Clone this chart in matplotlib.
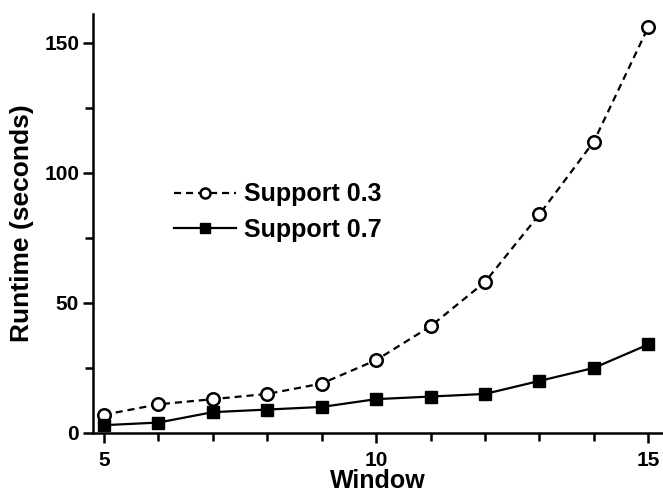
import matplotlib
matplotlib.use('Agg')
from matplotlib import pyplot as plt
from matplotlib.ticker import MultipleLocator

plt.rcParams['font.family'] = ['Liberation Sans', 'DejaVu Sans']
plt.rcParams['font.weight'] = 'bold'

# data
window = [5, 6, 7, 8, 9, 10, 11, 12, 13, 14, 15]
support_03 = [7, 11, 13, 15, 19, 28, 41, 58, 84, 112, 156]
support_07 = [3, 4, 8, 9, 10, 13, 14, 15, 20, 25, 34]

fig = plt.figure(figsize=(6.63, 4.95), dpi=100)
ax = fig.add_axes([0.1403, 0.1253, 0.8597, 0.8464])

ax.plot(window, support_03, color='black', lw=1.6, dashes=(3.2, 2.2),
        marker='o', ms=9, mfc='white', mec='black', mew=1.8,
        label='Support 0.3', clip_on=False, zorder=3)
ax.plot(window, support_07, color='black', lw=1.6, ls='-',
        marker='s', ms=9, mfc='black', mec='black',
        label='Support 0.7', clip_on=False, zorder=3)

ax.set_xlim(4.8, 15.27)
ax.set_ylim(0, 161)
ax.xaxis.set_major_locator(MultipleLocator(5))
ax.xaxis.set_minor_locator(MultipleLocator(1))
ax.yaxis.set_major_locator(MultipleLocator(50))
ax.yaxis.set_minor_locator(MultipleLocator(25))

for s in ['top', 'right']:
    ax.spines[s].set_visible(False)
for s in ['left', 'bottom']:
    ax.spines[s].set_linewidth(1.8)

ax.tick_params(which='both', direction='out', width=1.8, labelsize=15)
ax.tick_params(which='major', length=7)
ax.tick_params(which='minor', length=6)
ax.tick_params(axis='x', which='both', pad=6)
ax.tick_params(axis='y', which='both', pad=3)

ax.set_xlabel('Window', fontsize=18, fontweight='bold', labelpad=-1)
ax.set_ylabel('Runtime (seconds)', fontsize=19, fontweight='bold', labelpad=7)

leg = ax.legend(loc='upper left', bbox_to_anchor=(0.124, 0.622), frameon=False,
                fontsize=18, handlelength=2.5, handletextpad=0.3,
                labelspacing=0.45, borderaxespad=0, markerscale=0.8)
for t in leg.get_texts():
    t.set_fontweight('bold')

fig.savefig('out.png', dpi=100)
